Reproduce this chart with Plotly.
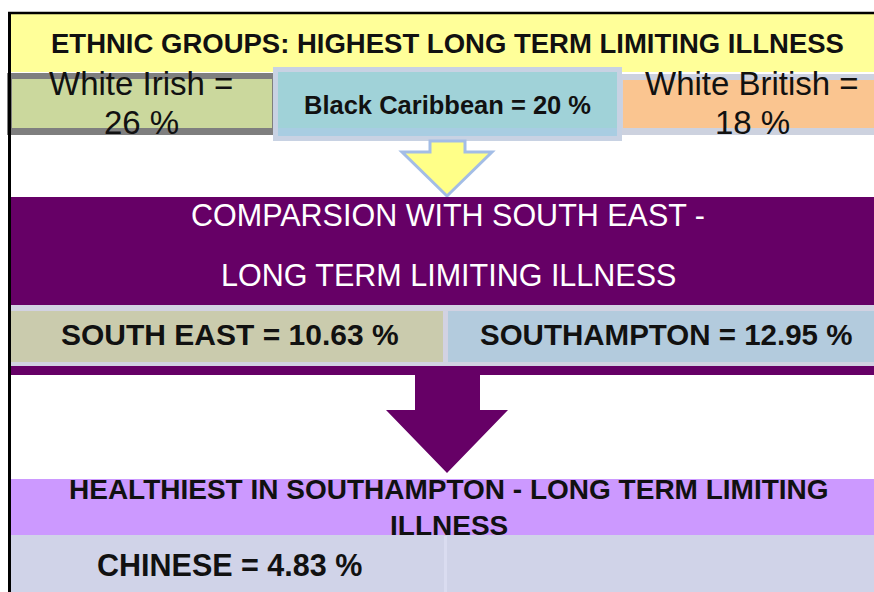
import plotly.graph_objects as go

# ---------------- data ----------------
group_names = ["White Irish", "Black Caribbean", "White British"]
group_pct = [26, 20, 18]
area_names = ["SOUTH EAST", "SOUTHAMPTON"]
area_pct = [10.63, 12.95]
healthiest_names = ["CHINESE"]
healthiest_pct = [4.83]
header_top = "ETHNIC GROUPS: HIGHEST LONG TERM LIMITING ILLNESS"
header_mid = ["COMPARSION WITH SOUTH EAST -", "LONG TERM LIMITING ILLNESS"]
header_bot = ["HEALTHIEST IN SOUTHAMPTON - LONG TERM LIMITING", "ILLNESS"]

W, H = 874, 592
FONT = "Liberation Sans, Arial, sans-serif"
PURPLE = "#660066"

fig = go.Figure()
fig.add_trace(go.Scatter(x=[0, W], y=[0, H], mode="markers",
                         marker=dict(opacity=0), hoverinfo="skip", showlegend=False))

shapes = []


def rect(x0, y0, x1, y1, fill, line=None, lw=0):
    shapes.append(dict(type="rect", xref="x", yref="y", x0=x0, y0=y0, x1=x1, y1=y1,
                       fillcolor=fill, line=dict(width=lw, color=line or fill), layer="above"))


def poly(pts, fill, line=None, lw=0):
    path = "M " + " L ".join(f"{x},{y}" for x, y in pts) + " Z"
    shapes.append(dict(type="path", xref="x", yref="y", path=path, fillcolor=fill,
                       line=dict(width=lw, color=line or fill), layer="above"))


# top yellow band
rect(11, 14, W, 72, "#ffff99")
# row 2: white irish (dark gray frame + green), white british (light frame + orange)
rect(7, 73, 274, 135, "#7f7f7f")
rect(12, 79, 272, 128, "#cbd89d")
rect(600, 74, W, 135, "#cdd2df")
rect(623, 80, W, 128, "#fac590")
# black caribbean box
rect(273, 67, 622, 141, "#c8d2e3")
rect(278, 72, 617, 136, "#a8cde2")
rect(278, 72, 617, 128, "#a0d2d8")
# yellow arrow
poly([(430, 141), (465, 141), (465, 152), (492, 152), (447, 196), (402, 152), (430, 152)],
     "#ffff88", "#a3bde6", 3)
# purple band
rect(11, 197, W, 305, PURPLE)
rect(11, 305, W, 367, "#d2d2e2")
rect(11, 311, 443, 362, "#cacbad")
rect(448, 311, W, 362, "#b3cbdd")
rect(11, 366, W, 375, PURPLE)
# purple arrow
poly([(415, 374), (480, 374), (480, 410), (508, 410), (447, 473), (386, 410), (415, 410)], PURPLE)
# healthiest band
rect(11, 479, W, 535, "#cc99ff")
rect(11, 535, W, H, "#d0d3e8")
rect(444, 536, 447, H, "#dadcf0")
# black frame
shapes.append(dict(type="line", xref="x", yref="y", x0=8, y0=13, x1=W, y1=13,
                   line=dict(color="#000000", width=2.5), layer="above"))
shapes.append(dict(type="line", xref="x", yref="y", x0=9.5, y0=12, x1=9.5, y1=H,
                   line=dict(color="#000000", width=3), layer="above"))

ann = []


def text(x, y, s, size, bold=False, color="#111111"):
    ann.append(dict(x=x, y=y, xref="x", yref="y", text=f"<b>{s}</b>" if bold else s,
                    showarrow=False, xanchor="center", yanchor="middle",
                    font=dict(family=FONT, size=size, color=color)))


text(447, 43, header_top, 27.5, bold=True)
# ethnic groups
text(141, 83.5, f"{group_names[0]} =", 33)
text(141, 122.5, f"{group_pct[0]} %", 33)
text(447, 104.5, f"{group_names[1]} = {group_pct[1]} %", 25.5, bold=True)
text(752, 83.5, f"{group_names[2]} =", 33)
text(752, 122.5, f"{group_pct[2]} %", 33)
# comparison
text(448, 215, header_mid[0], 30.5, color="#ffffff")
text(448, 275, header_mid[1], 30.5, color="#ffffff")
text(230, 334, f"{area_names[0]} = {area_pct[0]:.2f} %", 30, bold=True)
text(666, 334, f"{area_names[1]} = {area_pct[1]:.2f} %", 29.5, bold=True)
# healthiest
text(449, 489.5, header_bot[0], 28, bold=True)
text(449, 525, header_bot[1], 28, bold=True)
text(229, 564.5, f"{healthiest_names[0]} = {healthiest_pct[0]:.2f} %", 30.5, bold=True)

fig.update_layout(
    width=W, height=H, margin=dict(l=0, r=0, t=0, b=0),
    paper_bgcolor="#ffffff", plot_bgcolor="#ffffff",
    xaxis=dict(range=[0, W], visible=False, fixedrange=True),
    yaxis=dict(range=[H, 0], visible=False, fixedrange=True),
    shapes=shapes, annotations=ann, showlegend=False,
)
fig.write_html("out.html", config={"displayModeBar": False},
               post_script="document.body.style.margin='0';document.body.style.overflow='hidden';")
